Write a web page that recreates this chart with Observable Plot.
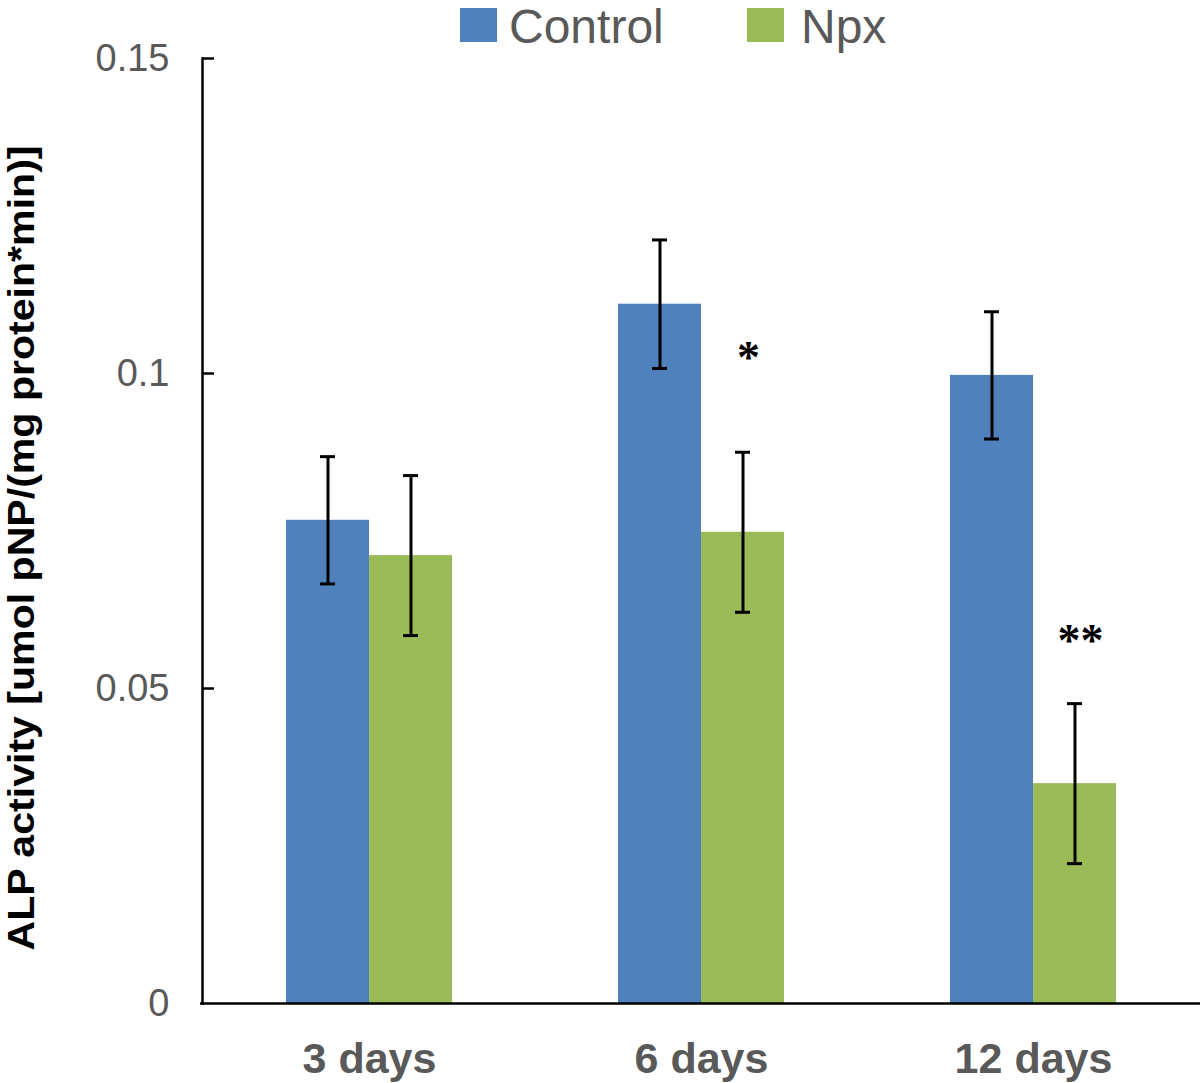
<!DOCTYPE html>
<html>
<head>
<meta charset="utf-8">
<script src="https://cdn.jsdelivr.net/npm/d3@7"></script>
<script src="https://cdn.jsdelivr.net/npm/@observablehq/plot@0.6"></script>
<style>
  html, body { margin: 0; padding: 0; background: #fff; }
  #wrap { position: relative; width: 1200px; height: 1083px; font-family: "Liberation Sans", Arial, sans-serif; }
  .leg { position: absolute; top: 3px; height: 48px; line-height: 48px; font-size: 48px; color: #595959; }
  .sw { position: absolute; top: 8px; width: 37px; height: 34px; }
</style>
</head>
<body>
<div id="wrap">
  <div id="chart"></div>
  <div class="sw" style="left:460px;background:#4F81BD"></div>
  <div class="leg" style="left:509px">Control</div>
  <div class="sw" style="left:747px;background:#9BBB59"></div>
  <div class="leg" style="left:801px">Npx</div>
</div>
<script>
const periods = ["3 days", "6 days", "12 days"];
const controlMean = [0.0767, 0.1110, 0.0997];
const controlErr = [0.0101, 0.0102, 0.0101];
const npxMean = [0.0711, 0.0748, 0.0349];
const npxErr = [0.0127, 0.0127, 0.0127];
const npxSig = ["", "*", "**"];
const npxSigY = [null, 0.1037, 0.0587];
const yTicks = [0, 0.05, 0.1, 0.15];
const yLabel = "ALP activity [umol pNP/(mg protein*min)]";

const blue = "#4F81BD", green = "#9BBB59";

const control = periods.map((p, i) => ({period: p, v: controlMean[i], lo: controlMean[i] - controlErr[i], hi: controlMean[i] + controlErr[i]}));
const npx = periods.map((p, i) => ({period: p, v: npxMean[i], lo: npxMean[i] - npxErr[i], hi: npxMean[i] + npxErr[i], sig: npxSig[i], sy: npxSigY[i]}));

const chart = Plot.plot({
  width: 1200,
  height: 1083,
  marginLeft: 202,
  marginRight: 0,
  marginTop: 58,
  marginBottom: 80,
  style: {fontFamily: "'Liberation Sans', Arial, sans-serif", background: "#fff"},
  x: {domain: periods, paddingInner: 0.5, paddingOuter: 0.25, axis: null},
  y: {domain: [0, 0.15], axis: null},
  marks: [
    Plot.barY(control, {x: "period", y: "v", fill: blue, insetRight: 83}),
    Plot.barY(npx, {x: "period", y: "v", fill: green, insetLeft: 83}),
    Plot.ruleX(control, {x: "period", y1: "lo", y2: "hi", dx: -41.5, stroke: "#000", strokeWidth: 3}),
    Plot.tickY(control, {x: "period", y: "lo", insetLeft: 34, insetRight: 117, stroke: "#000", strokeWidth: 3}),
    Plot.tickY(control, {x: "period", y: "hi", insetLeft: 34, insetRight: 117, stroke: "#000", strokeWidth: 3}),
    Plot.ruleX(npx, {x: "period", y1: "lo", y2: "hi", dx: 41.5, stroke: "#000", strokeWidth: 3}),
    Plot.tickY(npx, {x: "period", y: "lo", insetLeft: 117, insetRight: 34, stroke: "#000", strokeWidth: 3}),
    Plot.tickY(npx, {x: "period", y: "hi", insetLeft: 117, insetRight: 34, stroke: "#000", strokeWidth: 3}),
    Plot.text(npx.filter(d => d.sig), {x: "period", y: "sy", text: "sig", dx: 47, dy: 8, fontSize: 46, fontWeight: "bold", fontFamily: "'Liberation Serif', serif", fill: "#000"}),
    Plot.frame({anchor: "left", stroke: "#000", strokeWidth: 2.5}),
    Plot.ruleY([0], {stroke: "#000", strokeWidth: 2.5, insetLeft: -2}),
    Plot.axisY({ticks: yTicks, tickSize: 0, tickPadding: 33, tickFormat: d => String(d), fontSize: 38, fill: "#595959", label: null}),
    Plot.axisY({ticks: yTicks.filter(d => d > 0), tickSize: -12, tickFormat: () => "", stroke: "#000", strokeWidth: 2.5, label: null}),
    Plot.axisX({tickSize: 0, tickPadding: 39, fontSize: 43, fontWeight: "bold", fill: "#595959", label: null}),
    Plot.text([yLabel], {frameAnchor: "left", rotate: -90, dx: -180, dy: 17, text: d => d, fontSize: 37, fontWeight: "bold", fill: "#000", lineAnchor: "middle", textAnchor: "middle"})
  ]
});
document.getElementById("chart").appendChild(chart);
// stretch the y label to the reference's length
const lbl = Array.from(chart.querySelectorAll("text")).find(t => t.textContent === yLabel);
if (lbl) { lbl.setAttribute("textLength", 805); lbl.setAttribute("lengthAdjust", "spacingAndGlyphs"); }
</script>
</body>
</html>
